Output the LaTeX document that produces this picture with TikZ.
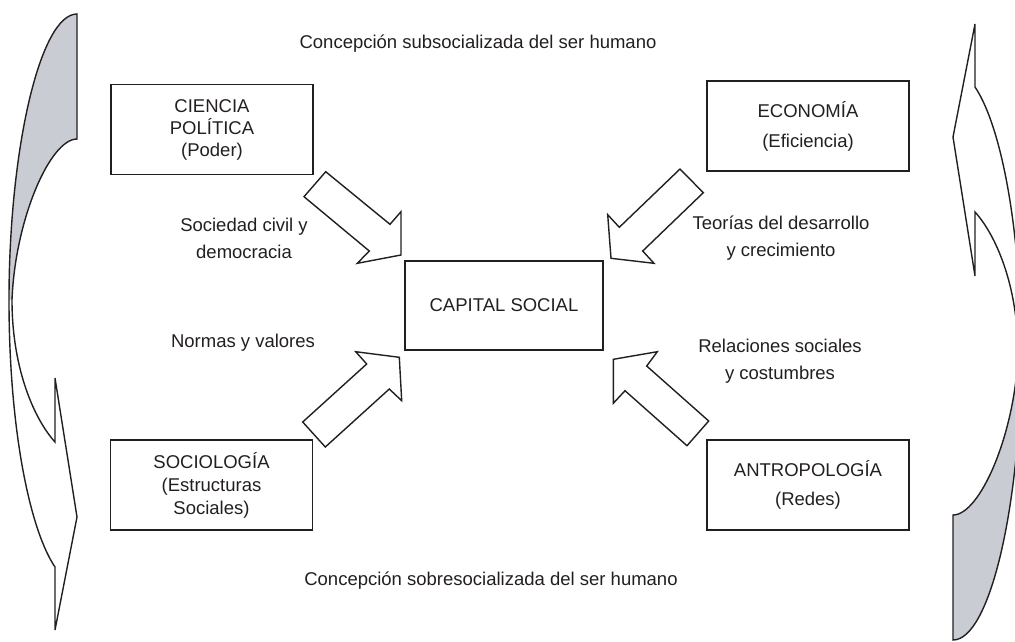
\documentclass[tikz,border=0pt]{standalone}
\usepackage{fontspec}
\setmainfont{Liberation Sans}
\definecolor{sidegray}{RGB}{201,204,211}
\definecolor{ink}{RGB}{35,31,32}
\begin{document}
\begin{tikzpicture}[x=1pt,y=-1pt,
  every node/.style={text=ink},
  txt/.style={font=\fontsize{18.5}{27}\selectfont, align=center, inner sep=0pt},
  box/.style={draw=ink, line width=1.5pt, minimum width=202pt, minimum height=90pt, inner sep=0pt, align=center, font=\fontsize{18.5}{23}\selectfont},
  blockarrow/.style={draw=ink, line width=1.4pt, fill=white, line join=miter},
  curved/.style={draw=ink, line width=1.4pt, line join=miter}]
\useasboundingbox (0,0) rectangle (1015,641);

% side curved arrows (left, and right = left rotated by 180 degrees)
\newcommand{\curvedarrow}{%
  \fill[sidegray] (77,14) -- (77,139) .. controls (50,139) and (15,220) .. (12,300)
     -- (9,300) .. controls (9,150) and (40,14) .. (77,14) -- cycle;
  \draw[curved] (77,14) -- (77,139) .. controls (50,139) and (15,220) .. (12,300)
     .. controls (12,370) and (35,420) .. (55,442) -- (55,378) -- (77,517)
     -- (55,630) -- (55,567) .. controls (30,530) and (9,430) .. (9,300)
     .. controls (9,150) and (40,14) .. (77,14) -- cycle;}
\curvedarrow
\begin{scope}[rotate around={180:(515,327)}]
\curvedarrow
\end{scope}

% boxes
\node[box, font=\fontsize{18.5}{22}\selectfont] (cp) at (212,129.5) {CIENCIA\\POLÍTICA\\(Poder)};
\node[box, font=\fontsize{18.5}{30}\selectfont] (ec) at (808,126) {ECONOMÍA\\(Eficiencia)};
\node[box, minimum width=198pt, minimum height=89pt] (cs) at (504,305.5) {CAPITAL SOCIAL};
\node[box] (so) at (211.5,485) {SOCIOLOGÍA\\(Estructuras\\Sociales)};
\node[box, font=\fontsize{18.5}{29}\selectfont] (an) at (808,485) {ANTROPOLOGÍA\\(Redes)};

% block arrows
\draw[blockarrow] (325.7,171.7) -- (390,224.3) -- (401,211.7) -- (401,255) -- (357.3,263.3) -- (369.3,251) -- (304,196.7) -- cycle;
\draw[blockarrow] (680,169) -- (619.3,227.3) -- (607.7,214.7) -- (611,258.3) -- (654,263.3) -- (642.7,251) -- (703.3,192.7) -- cycle;
\draw[blockarrow] (302.7,422) -- (366.7,364) -- (355.7,351.7) -- (399.3,357.3) -- (401.7,400.7) -- (389.3,389) -- (325.3,447) -- cycle;
\draw[blockarrow] (708.7,421) -- (646.7,366) -- (657.3,351.7) -- (613.3,359.3) -- (613.3,403.3) -- (625,390.7) -- (687,445.7) -- cycle;

% labels
\node[txt] (t1) at (478,44) {Concepción subsocializada del ser humano};
\node[txt] (t2) at (491,581) {Concepción sobresocializada del ser humano};
\node[txt] (l1) at (244,238) {Sociedad civil y\\democracia};
\node[txt] (l2) at (781,238) {Teorías del desarrollo\\y crecimiento};
\node[txt] (l3) at (243,343) {Normas y valores};
\node[txt] (l4) at (780,361) {Relaciones sociales\\y costumbres};
\end{tikzpicture}
\end{document}
